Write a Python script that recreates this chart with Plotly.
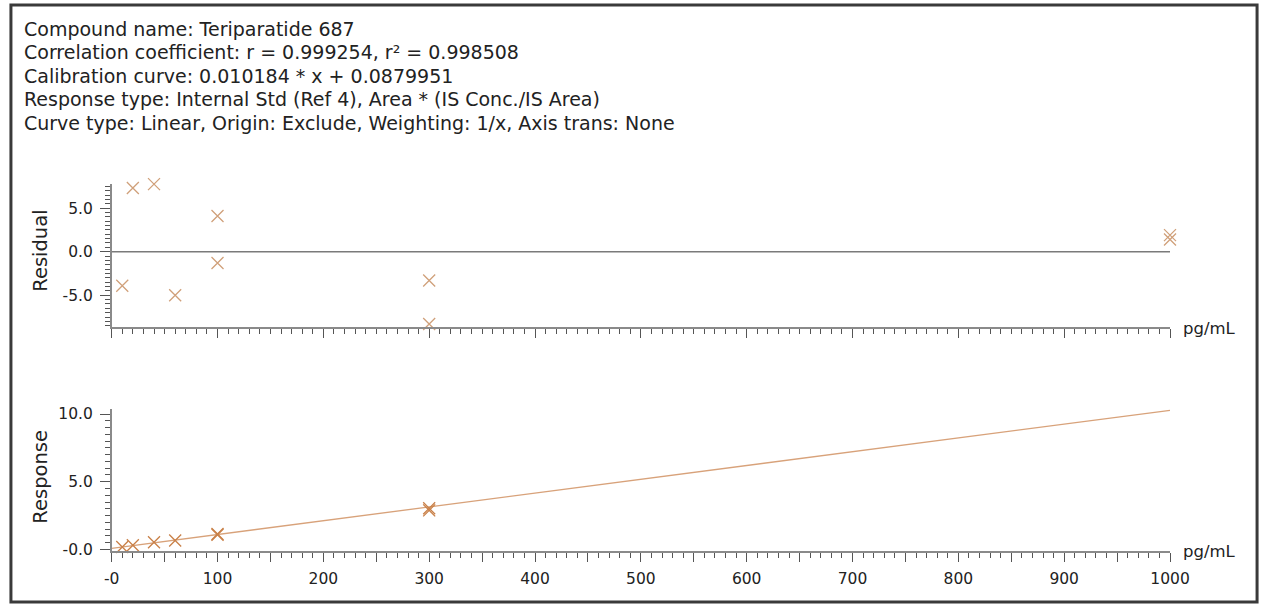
import plotly.graph_objects as go

W, H = 1280, 614

# ---- data ----
header_lines = [
    "Compound name: Teriparatide 687",
    "Correlation coefficient: r = 0.999254, r² = 0.998508",
    "Calibration curve: 0.010184 * x + 0.0879951",
    "Response type: Internal Std (Ref 4), Area * (IS Conc./IS Area)",
    "Curve type: Linear, Origin: Exclude, Weighting: 1/x, Axis trans: None",
]
conc = [10, 20, 40, 60, 100, 100, 300, 300, 1000, 1000]
residual = [-3.9, 7.3, 7.75, -5.0, 4.1, -1.3, -3.3, -8.3, 1.9, 1.4]
response = [0.19, 0.31, 0.53, 0.67, 1.15, 1.09, 3.04, 2.89, 10.47, 10.42]
fit_x = [0, 1000]
fit_y = [0.088, 10.272]
x_tickvals = list(range(0, 1001, 50))
x_ticktext = ["-0" if v == 0 else (str(v) if v % 100 == 0 else "") for v in x_tickvals]
res_tickvals = [-5, 0, 5]
res_ticktext = ["-5.0", "0.0", "5.0"]
resp_tickvals = [0, 5, 10]
resp_ticktext = ["-0.0", "5.0", "10.0"]
x_unit = "pg/mL"

# ---- helpers: page pixel -> paper fraction ----
def px(p):
    return p / W

def py(p):
    return 1 - p / H

FONT = "DejaVu Sans"
TXT = "#222222"
AX = "#8a8a8a"
TICK = "#555555"

fig = go.Figure()
fig.add_trace(go.Scatter(
    x=conc, y=residual, mode="markers", xaxis="x", yaxis="y",
    marker=dict(symbol="x-thin", size=12, line=dict(width=1.3, color="#D0A07A")),
    cliponaxis=False, showlegend=False,
))
fig.add_trace(go.Scatter(
    x=fit_x, y=fit_y, mode="lines", xaxis="x2", yaxis="y2",
    line=dict(color="#D8A27A", width=1.3), showlegend=False, cliponaxis=False,
))
fig.add_trace(go.Scatter(
    x=conc, y=response, mode="markers", xaxis="x2", yaxis="y2",
    marker=dict(symbol="x-thin", size=12, line=dict(width=1.3, color="#C98048")),
    cliponaxis=False, showlegend=False,
))

xdom = [px(106), px(1188)]
common_x = dict(
    range=[0, 1000], domain=xdom, showgrid=False, zeroline=False,
    showline=True, linecolor=AX, linewidth=1.5,
    tickmode="array", tickvals=x_tickvals, ticktext=x_ticktext,
    ticks="outside", ticklen=9, tickwidth=1, tickcolor=TICK,
    minor=dict(tickmode="linear", tick0=0, dtick=10, ticks="outside",
               ticklen=5, tickwidth=1, tickcolor=TICK),
    tickfont=dict(family=FONT, size=15.5, color=TXT),
)
common_y = dict(
    showgrid=False, zeroline=False, showline=True, linecolor=AX, linewidth=1.5,
    tickmode="array", ticks="outside", ticklen=10, tickwidth=1, tickcolor=TICK,
    minor=dict(tickmode="linear", tick0=0, dtick=0.5, ticks="outside",
               ticklen=5, tickwidth=1, tickcolor=TICK),
    tickfont=dict(family=FONT, size=15.5, color=TXT),
    ticklabelstandoff=4,
)

fig.update_layout(
    width=W, height=H,
    margin=dict(l=0, r=0, t=0, b=0),
    paper_bgcolor="white", plot_bgcolor="white",
    font=dict(family=FONT, color=TXT),
    xaxis=dict(common_x, anchor="y", showticklabels=False),
    yaxis=dict(common_y, anchor="x", domain=[py(330), py(184)], range=[-8.65, 7.8],
               tickvals=res_tickvals, ticktext=res_ticktext),
    xaxis2=dict(common_x, anchor="y2", ticklabelstandoff=4),
    yaxis2=dict(common_y, anchor="x2", domain=[py(558), py(413)], range=[-0.11, 10.4],
                tickvals=resp_tickvals, ticktext=resp_ticktext),
)

# zero line on residual plot
fig.add_shape(type="line", xref="x", yref="y", x0=0, x1=1000, y0=0, y1=0,
              line=dict(color="#7a7a7a", width=1.5))

# outer frame
fig.add_shape(type="rect", xref="paper", yref="paper",
              x0=px(3), x1=px(1277), y0=py(610), y1=py(2),
              line=dict(color="#3a3a3a", width=3))

annotations = []
for i, line in enumerate(header_lines):
    annotations.append(dict(
        text=line, xref="paper", yref="paper", x=px(14), y=py(26 + 24 * i),
        xanchor="left", yanchor="middle", showarrow=False,
        font=dict(family=FONT, size=19, color=TXT),
    ))
annotations.append(dict(text="Residual", xref="paper", yref="paper", x=px(33), y=py(252),
                        textangle=-90, showarrow=False, xanchor="center", yanchor="middle",
                        font=dict(family=FONT, size=19.5, color=TXT)))
annotations.append(dict(text="Response", xref="paper", yref="paper", x=px(33), y=py(482),
                        textangle=-90, showarrow=False, xanchor="center", yanchor="middle",
                        font=dict(family=FONT, size=19.5, color=TXT)))
annotations.append(dict(text=x_unit, xref="paper", yref="paper", x=px(1199), y=py(331),
                        xanchor="left", yanchor="middle", showarrow=False,
                        font=dict(family=FONT, size=16.5, color=TXT)))
annotations.append(dict(text=x_unit, xref="paper", yref="paper", x=px(1199), y=py(559),
                        xanchor="left", yanchor="middle", showarrow=False,
                        font=dict(family=FONT, size=16.5, color=TXT)))
fig.update_layout(annotations=annotations)

fig.write_html(
    "out.html",
    config={"displayModeBar": False},
    post_script=(
        "document.body.style.margin='0';"
        "document.body.style.padding='0';"
        "document.body.style.overflow='hidden';"
        "document.documentElement.style.overflow='hidden';"
    ),
)
